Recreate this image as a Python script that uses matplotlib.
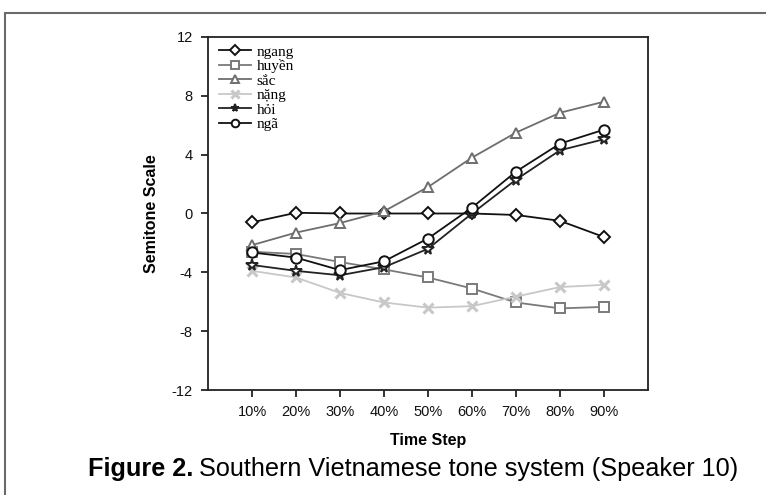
import numpy as np
import matplotlib
matplotlib.use("Agg")
from matplotlib import pyplot as plt
from matplotlib.patches import Rectangle

time_steps = ["10%", "20%", "30%", "40%", "50%", "60%", "70%", "80%", "90%"]
y_ticks = [-12, -8, -4, 0, 4, 8, 12]

ngang = [-0.6, 0.05, 0.0, 0.0, 0.0, 0.0, -0.1, -0.5, -1.6]
huyen = [-2.6, -2.75, -3.3, -3.8, -4.35, -5.1, -6.05, -6.45, -6.35]
sac = [-2.15, -1.3, -0.65, 0.15, 1.8, 3.8, 5.5, 6.85, 7.6]
nang = [-3.9, -4.35, -5.4, -6.05, -6.4, -6.3, -5.65, -5.0, -4.85]
hoi = [-3.5, -3.9, -4.2, -3.65, -2.4, 0.0, 2.3, 4.3, 5.05]
nga = [-2.65, -3.0, -3.85, -3.25, -1.7, 0.4, 2.85, 4.75, 5.7]

series = [
    ("ngang", ngang, "D", "#111111", 6.5),
    ("huyền", huyen, "s", "#7a7a7a", 7),
    ("sắc", sac, "^", "#6e6e6e", 7.5),
    ("nặng", nang, "x", "#c8c8c8", 7),
    ("hỏi", hoi, "*", "#222222", 8.5),
    ("ngã", nga, "o", "#111111", 7.5),
]

plt.rcParams['font.family'] = ['Liberation Sans', 'DejaVu Sans']
plt.rcParams['axes.unicode_minus'] = False

fig = plt.figure(figsize=(7.66, 4.95), dpi=100)
ax = fig.add_axes([208 / 766, 1 - 390 / 495, 440 / 766, 353 / 495])

x = np.arange(1, len(time_steps) + 1)
for name, vals, mk, col, ms in series:
    if mk == "x":
        ax.plot(x, vals, color=col, lw=1.3, marker=mk, ms=ms, mew=2.2,
                label=name)
    else:
        ax.plot(x, vals, color=col, lw=1.3, marker=mk, ms=ms, mew=1.4,
                mfc="white", mec=col, label=name)

ax.set_xlim(0, 10)
ax.set_ylim(-12, 12)
ax.set_xticks(x)
ax.set_xticklabels(time_steps)
ax.set_yticks(y_ticks)
ax.tick_params(axis="both", direction="out", length=5, width=1.2,
               labelsize=10.5, colors="#111111", pad=6)
for sp in ax.spines.values():
    sp.set_linewidth(1.3)
    sp.set_color("#222222")

ax.set_xlabel("Time Step", fontsize=11.5, fontweight="bold", labelpad=10)
ax.set_ylabel("Semitone Scale", fontsize=11.5, fontweight="bold",
              labelpad=9)

leg = ax.legend(loc="upper left", bbox_to_anchor=(0.012, 0.995),
                frameon=False, handlelength=2.1, handletextpad=0.35,
                labelspacing=0.05, borderaxespad=0.0,
                prop={"family": "Liberation Serif", "size": 11})
for h in leg.legend_handles:
    h.set_markersize(5.5)

# outer frame (only top and left visible)
fig.patches.append(Rectangle((5 / 766, -0.1), 1.2, (1 - 13 / 495) + 0.1,
                             transform=fig.transFigure, fill=False,
                             edgecolor="#6a6a6a", lw=1.5))

# caption: bold label, then the plain text right after it
cap_y = 1 - 469 / 495
t1 = fig.text(88 / 766, cap_y, "Figure 2.", fontsize=18.2,
              fontweight="bold", va="center", ha="left")
fig.canvas.draw()
bb = t1.get_window_extent()
x2 = bb.x1 / fig.bbox.width + 6 / 766
fig.text(x2, cap_y, "Southern Vietnamese tone system (Speaker 10)",
         fontsize=18.2, va="center", ha="left")

fig.savefig("out.png", dpi=100)
